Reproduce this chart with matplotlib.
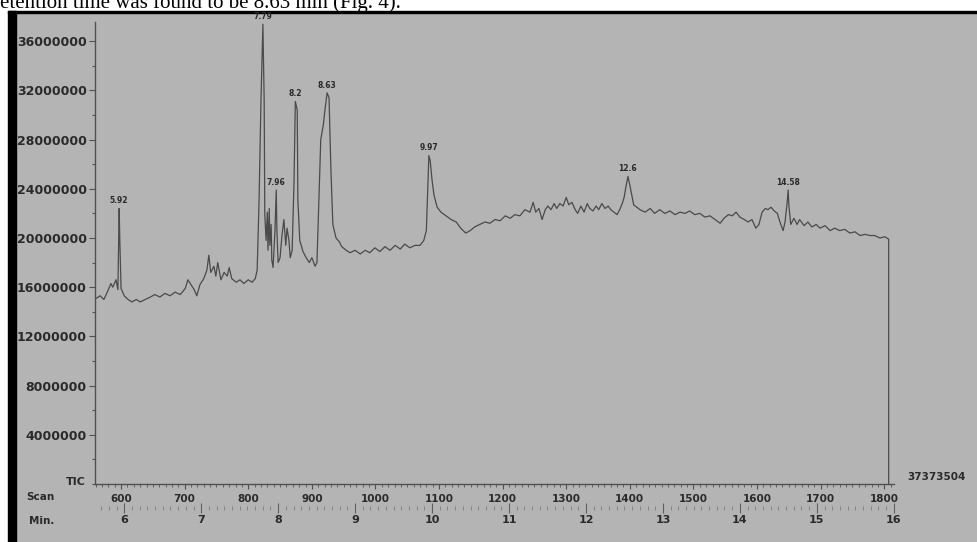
import matplotlib.pyplot as plt
import matplotlib.ticker as mticker
from matplotlib.patches import Rectangle
import numpy as np

# scan number and total ion current (millions of counts)
scan = [561, 567, 573, 580, 584, 587, 592, 595, 597, 598, 600, 605, 611, 617, 624, 630, 638, 646, 653, 661,
        669, 677, 685, 693, 701, 705, 710, 715, 719, 724, 730, 735, 738, 741, 746, 749, 752, 757, 762, 767,
        770, 774, 781, 787, 793, 800, 806, 811, 814, 817, 820, 823, 825, 826, 828, 830, 831, 833, 834, 836,
        837, 839, 842, 844, 845, 847, 850, 853, 856, 859, 861, 864, 866, 869, 872, 874, 877, 878, 881, 886,
        891, 896, 900, 905, 908, 911, 914, 918, 921, 924, 927, 930, 933, 938, 943, 947, 954, 960, 968, 976,
        984, 991, 999, 1007, 1015, 1023, 1031, 1039, 1046, 1054, 1062, 1070, 1076, 1080, 1083, 1084, 1086, 1089, 1092, 1097,
        1103, 1111, 1119, 1127, 1134, 1142, 1149, 1156, 1164, 1172, 1180, 1188, 1196, 1204, 1212, 1219, 1227, 1235, 1243, 1248,
        1252, 1257, 1262, 1267, 1271, 1276, 1281, 1285, 1290, 1295, 1300, 1304, 1309, 1314, 1318, 1323, 1328, 1333, 1337, 1342,
        1347, 1351, 1356, 1361, 1366, 1370, 1375, 1380, 1384, 1388, 1391, 1394, 1397, 1400, 1403, 1406, 1411, 1416, 1424, 1432,
        1439, 1447, 1455, 1463, 1471, 1479, 1487, 1494, 1502, 1510, 1518, 1526, 1534, 1542, 1548, 1555, 1561, 1567, 1573, 1580,
        1586, 1592, 1598, 1603, 1608, 1613, 1617, 1622, 1627, 1632, 1636, 1641, 1644, 1647, 1649, 1650, 1653, 1658, 1663, 1667,
        1674, 1680, 1686, 1693, 1699, 1707, 1715, 1722, 1730, 1738, 1746, 1754, 1762, 1770, 1777, 1785, 1793, 1801, 1807, 1807]
tic = [15.1, 15.3, 15.0, 15.8, 16.3, 16.0, 16.6, 15.8, 22.4, 19.8, 15.9, 15.3, 15.0, 14.8, 15.0, 14.8, 15.0, 15.2, 15.4, 15.2,
       15.5, 15.3, 15.6, 15.4, 15.9, 16.6, 16.2, 15.8, 15.3, 16.2, 16.7, 17.4, 18.6, 17.2, 17.7, 16.9, 18.0, 16.6, 17.2, 16.9,
       17.6, 16.7, 16.4, 16.6, 16.3, 16.6, 16.4, 16.7, 17.4, 23.1, 31.2, 37.373504, 31.2, 21.9, 19.8, 22.1, 19.0, 22.4, 19.4, 21.1,
       18.2, 17.6, 20.6, 23.9, 20.6, 18.0, 18.4, 20.2, 21.5, 19.4, 20.8, 19.8, 18.4, 19.0, 24.7, 31.1, 30.4, 23.1, 19.8, 18.9,
       18.4, 18.0, 18.4, 17.7, 18.0, 23.1, 28.0, 29.2, 30.6, 31.8, 31.4, 25.5, 21.1, 20.0, 19.7, 19.3, 19.0, 18.8, 19.0, 18.7,
       19.0, 18.8, 19.2, 18.9, 19.3, 19.0, 19.4, 19.1, 19.5, 19.2, 19.4, 19.4, 19.8, 20.6, 25.1, 26.7, 26.3, 24.7, 23.5, 22.5,
       22.1, 21.8, 21.5, 21.3, 20.8, 20.4, 20.6, 20.9, 21.1, 21.3, 21.2, 21.5, 21.4, 21.8, 21.6, 21.9, 21.8, 22.3, 22.1, 22.9,
       22.1, 22.4, 21.5, 22.3, 22.6, 22.3, 22.8, 22.4, 22.8, 22.6, 23.3, 22.7, 22.9, 22.3, 22.0, 22.6, 22.1, 22.8, 22.4, 22.2,
       22.6, 22.3, 22.8, 22.4, 22.6, 22.3, 22.1, 21.9, 22.3, 22.8, 23.3, 24.2, 25.0, 24.3, 23.5, 22.7, 22.5, 22.3, 22.1, 22.4,
       22.0, 22.3, 22.0, 22.2, 21.9, 22.1, 22.0, 22.2, 21.9, 22.0, 21.7, 21.8, 21.5, 21.2, 21.6, 21.9, 21.8, 22.1, 21.7, 21.5,
       21.3, 21.5, 20.8, 21.1, 22.1, 22.4, 22.3, 22.5, 22.2, 22.0, 21.3, 20.6, 21.3, 22.7, 23.9, 22.7, 21.1, 21.6, 21.1, 21.5,
       21.0, 21.3, 20.9, 21.1, 20.8, 21.0, 20.6, 20.8, 20.6, 20.7, 20.4, 20.5, 20.2, 20.3, 20.2, 20.2, 20.0, 20.1, 19.9, 0.0]

peak_scans = [597, 823, 844, 874, 924, 1084, 1397, 1649]
peak_labels = ["5.92", "7.79", "7.96", "8.2", "8.63", "9.97", "12.6", "14.58"]

y_ticks = [4000000, 8000000, 12000000, 16000000, 20000000, 24000000, 28000000, 32000000, 36000000]
scan_ticks = [600, 700, 800, 900, 1000, 1100, 1200, 1300, 1400, 1500, 1600, 1700, 1800]
min_ticks = [6, 7, 8, 9, 10, 11, 12, 13, 14, 15, 16]
max_count = "37373504"

W, H = 977, 542
gray = "#b4b4b4"
ink = "#2a2a2a"
line_col = "#4a4a4a"
bold = dict(family="DejaVu Sans", weight="bold", color=ink)

fig = plt.figure(figsize=(W / 100, H / 100), dpi=100, facecolor=gray)

# scan border: white strip on top and left, black edges
fig.add_artist(Rectangle((0, 1 - 11 / H), 1, 11 / H, transform=fig.transFigure, color="white", zorder=-2))
fig.add_artist(Rectangle((0, 0), 8 / W, 1, transform=fig.transFigure, color="white", zorder=-2))
fig.add_artist(Rectangle((8 / W, 0), 8 / W, 1 - 11 / H, transform=fig.transFigure, color="black", zorder=-1))
fig.add_artist(Rectangle((8 / W, 1 - 13 / H), 1 - 8 / W, 2 / H, transform=fig.transFigure, color="black", zorder=-1))
fig.text(0.0, 1 - 8 / H, "etention time was found to be 8.63 min (Fig. 4).", family="Liberation Serif",
         fontsize=15, color="black", ha="left", va="baseline")

ax = fig.add_axes([95 / W, 1 - 484 / H, 799.4 / W, 462.5 / H])
ax.set_facecolor("none")

counts = np.array(tic) * 1e6
ax.plot(scan, counts, color=line_col, lw=0.9)

for s, lab in zip(peak_scans, peak_labels):
    v = counts[scan.index(s)]
    ax.annotate(lab, (s, v), xytext=(0, 5.5), textcoords="offset points",
                ha="center", va="center", fontsize=5.5, annotation_clip=False, **bold)

ax.set_xlim(559, 1816)
ax.set_ylim(0, 37.6e6)
for side in ["top", "right"]:
    ax.spines[side].set_visible(False)
for side in ["left", "bottom"]:
    ax.spines[side].set_color("#505050")
    ax.spines[side].set_linewidth(1.0)

ax.set_yticks(y_ticks)
ax.yaxis.set_major_formatter(mticker.FormatStrFormatter("%d"))
ax.yaxis.set_minor_locator(mticker.MultipleLocator(2000000))
ax.tick_params(axis="y", which="major", length=4.5, width=0.8, color="#505050", pad=1.5, labelsize=9)
ax.tick_params(axis="y", which="minor", length=2.5, width=0.8, color="#505050")

ax.set_xticks(scan_ticks)
ax.xaxis.set_minor_locator(mticker.MultipleLocator(10))
ax.tick_params(axis="x", which="major", length=3.5, width=0.8, color="#505050", pad=3.5, labelsize=7.5)
ax.tick_params(axis="x", which="minor", length=2, width=0.6, color="#505050")
for lab in ax.get_xticklabels() + ax.get_yticklabels():
    lab.set_fontweight("bold")
    lab.set_color(ink)

# retention time axis (scan = 121 * (min - 1))
sec = ax.secondary_xaxis(-0.052, functions=(lambda s: s / 121 + 1, lambda m: (m - 1) * 121))
sec.spines["bottom"].set_visible(False)
sec.set_xticks(min_ticks)
sec.xaxis.set_minor_locator(mticker.MultipleLocator(0.1))
sec.tick_params(which="major", direction="inout", length=7, width=0.8, color="#606060", pad=1.5, labelsize=8)
sec.tick_params(which="minor", direction="inout", length=3, width=0.5, color="#707070")
for lab in sec.get_xticklabels():
    lab.set_fontweight("bold")
    lab.set_color(ink)

fig.text(86 / W, 1 - 482 / H, "TIC", ha="right", va="center", fontsize=8, **bold)
fig.text(40 / W, 1 - 497 / H, "Scan", ha="center", va="center", fontsize=7.5, **bold)
fig.text(42 / W, 1 - 521 / H, "Min.", ha="center", va="center", fontsize=7.5, **bold)
fig.text(936 / W, 1 - 477 / H, max_count, ha="center", va="center", fontsize=7.5, **bold)

fig.savefig("out.png", dpi=100, facecolor=gray)
